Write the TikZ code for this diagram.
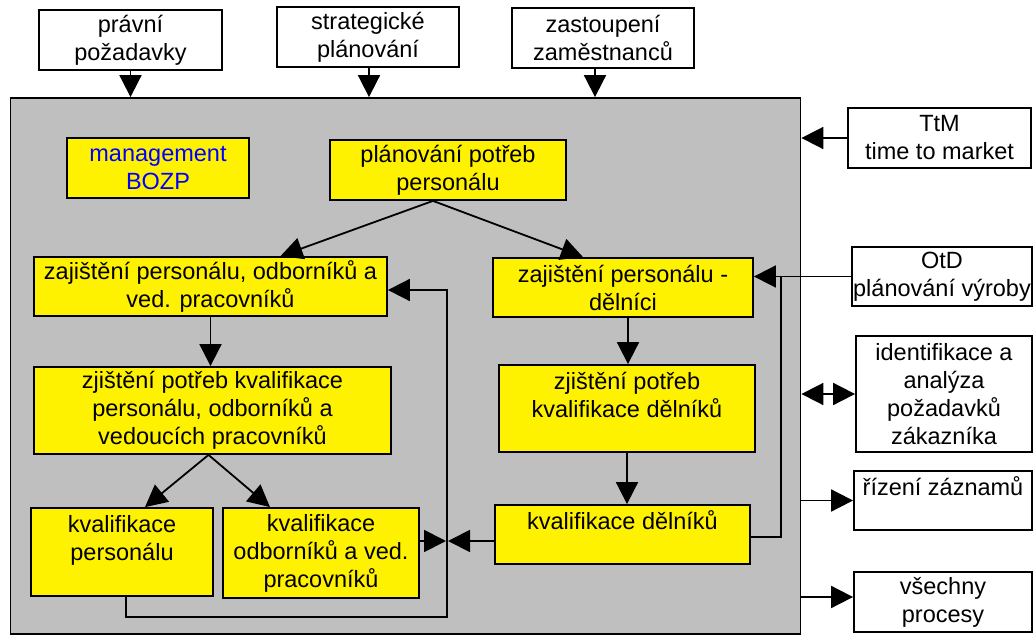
\documentclass[tikz,border=0pt]{standalone}
\usepackage{fontspec}
\setmainfont{Liberation Sans}
\usetikzlibrary{arrows.meta}

\begin{document}
\begin{tikzpicture}[x=1pt, y=-1pt, line width=1.8pt, >={Triangle[length=22pt,width=22pt]},
  font=\fontsize{23.5}{28}\selectfont,
  wbox/.style={draw, fill=white, align=center, inner sep=0pt},
  ybox/.style={draw, fill=yellow, align=center, inner sep=0pt}]
\useasboundingbox (0,0) rectangle (1033,636);
% process area
\node[draw, fill=black!25, minimum width=790pt, minimum height=536pt, inner sep=0pt] (proc) at (405.5,366) {};
% inputs from above
\node[wbox, minimum width=183pt, minimum height=60pt] (pravni) at (130.5,40) {právní\\požadavky};
\node[wbox, minimum width=182pt, minimum height=60pt] (strat) at (368,37) {strategické\\plánování};
\node[wbox, minimum width=182pt, minimum height=60pt] (zast) at (603,38) {zastoupení\\zaměstnanců};
\foreach \n/\s in {pravni/0,strat/1,zast/-8}
  \draw[->] ([xshift=\s pt]\n.south) -- ([xshift=\s pt]\n.south |- proc.north);
% boxes on the right
\node[wbox, minimum width=183pt, minimum height=60pt] (ttm) at (939.5,138) {TtM\\time to market};
\node[wbox, minimum width=180pt, minimum height=59pt] (otd) at (942,276.5) {OtD\\plánování výroby};
\node[wbox, minimum width=176pt, minimum height=116pt] (ident) at (944,394) {identifikace a\\analýza\\požadavků\\zákazníka};
\node[wbox, minimum width=178pt, minimum height=59pt] (rizeni) at (943,500.5) {řízení záznamů\\\mbox{}};
\node[wbox, minimum width=178pt, minimum height=60pt] (vsech) at (943,602) {všechny\\procesy};
\draw[->] (ttm.west) -- (ttm.west -| proc.east);
\draw[<->] (proc.east |- ident.west) -- (ident.west);
\draw[->] (proc.east |- rizeni.west) -- (rizeni.west);
\draw[->] ([yshift=5pt]proc.east |- vsech.west) -- ([yshift=5pt]vsech.west);
% steps
\node[ybox, text=blue, minimum width=182pt, minimum height=60pt] (bozp) at (158,168) {management\\BOZP};
\node[ybox, minimum width=236pt, minimum height=60pt] (plan) at (448,170) {plánování potřeb\\personálu};
\node[ybox, minimum width=353pt, minimum height=59pt] (zajP) at (210.5,286.5) {zajištění personálu, odborníků a\\ved. pracovníků};
\node[ybox, minimum width=260pt, minimum height=59pt] (zajD) at (623,287.5) {zajištění personálu -\\dělníci};
\node[ybox, minimum width=357pt, minimum height=87pt] (zjP) at (212.5,410.5) {zjištění potřeb kvalifikace\\personálu, odborníků a\\vedoucích pracovníků};
\node[ybox, minimum width=256pt, minimum height=87pt] (zjD) at (627,408.5) {zjištění potřeb\\kvalifikace dělníků\\\mbox{}};
\node[ybox, minimum width=182pt, minimum height=88pt] (kvP) at (122,552) {kvalifikace\\personálu\\\mbox{}};
\node[ybox, minimum width=196pt, minimum height=90pt] (kvO) at (321,553) {kvalifikace\\odborníků a ved.\\pracovníků};
\node[ybox, minimum width=255pt, minimum height=59pt] (kvD) at (622.5,534.5) {kvalifikace dělníků\\\mbox{}};
% connections
\draw[->] ([xshift=-15pt]plan.south) -- ([xshift=70pt]zajP.north);
\draw[->] ([xshift=-15pt]plan.south) -- ([xshift=-40pt]zajD.north);
\draw[->] (zajP.south) -- (zajP.south |- zjP.north);
\draw[->] ([xshift=-4pt]zjP.south) -- ([xshift=23pt]kvP.north);
\draw[->] ([xshift=-4pt]zjP.south) -- ([xshift=-51pt]kvO.north);
\draw[->] ([xshift=5pt]zajD.south) -- ([xshift=5pt]zajD.south |- zjD.north);
\draw[->] (zjD.south) -- (zjD.south |- kvD.north);
% feedback loop
\coordinate (m) at (447,541);
\draw[->] ([xshift=4pt]kvP.south) -- ++(0,20) -| (m) |- ([yshift=-3.5pt]zajP.east);
\draw[->, shorten >=1pt] (kvO.east |- m) -- (m);
\draw[->, shorten >=1pt] (kvD.west |- m) -- (m);
% production planning
\coordinate (j) at (781,276.5);
\draw[->] (otd.west) -- (otd.west -| zajD.east);
\draw ([yshift=-2.5pt]kvD.east) -| (j);
\end{tikzpicture}
\end{document}
